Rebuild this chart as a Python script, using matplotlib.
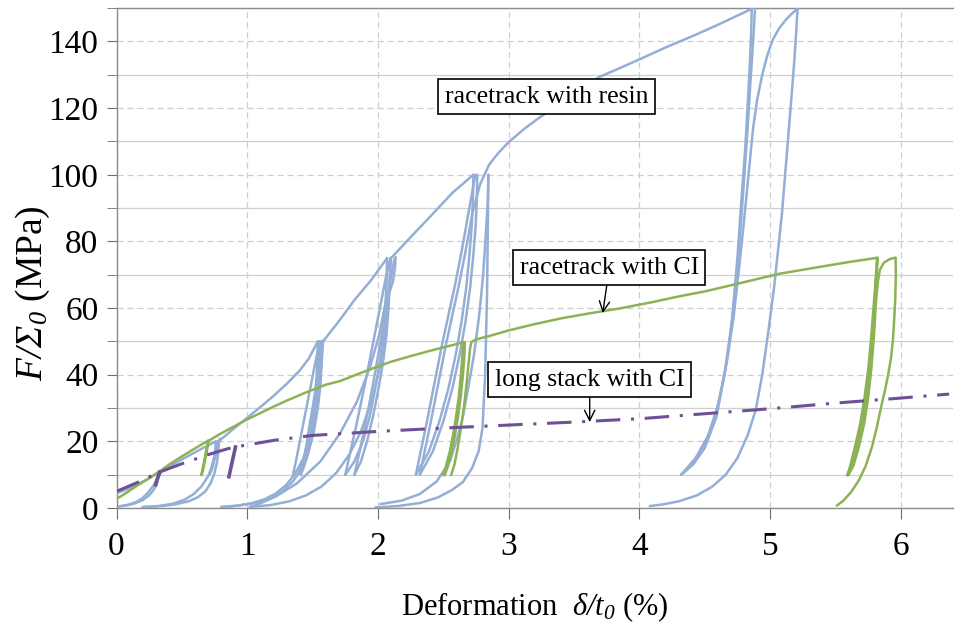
import matplotlib
matplotlib.use("Agg")
import matplotlib.pyplot as plt
from matplotlib.ticker import MultipleLocator

plt.rcParams['font.family'] = ['Liberation Serif', 'DejaVu Serif']
plt.rcParams['mathtext.fontset'] = 'custom'
plt.rcParams['mathtext.rm'] = 'Liberation Serif:italic'
plt.rcParams['mathtext.it'] = 'Liberation Serif:italic'

# ---------------- data ----------------
# racetrack with resin (blue): polylines, x = deformation (%), y = F/Sigma0 (MPa)
resin_x = [
    # level ~11 MPa
    [0, 0.05, 0.10, 0.16, 0.22, 0.27, 0.31, 0.33],
    [0.33, 0.325, 0.31, 0.285, 0.25, 0.20, 0.14, 0.08, 0.02],
    [0.02, 0.09, 0.15, 0.20, 0.24, 0.28, 0.31, 0.335, 0.35],
    [0.35, 0.42, 0.50, 0.58, 0.66, 0.72, 0.76],
    # level 20 MPa
    [0.76, 0.755, 0.745, 0.73, 0.71, 0.725, 0.745, 0.76, 0.775],
    [0.775, 0.785, 0.78, 0.77, 0.75, 0.72, 0.68, 0.62, 0.55, 0.46, 0.37, 0.28, 0.20],
    [0.20, 0.32, 0.43, 0.52, 0.59, 0.65, 0.70, 0.735, 0.765, 0.79],
    [0.785, 0.83, 0.88, 0.94, 1.01, 1.10, 1.20, 1.30, 1.40, 1.47, 1.54],
    # level 50 MPa
    [1.54, 1.537, 1.53, 1.518, 1.50, 1.475, 1.44, 1.40, 1.35],
    [1.35, 1.375, 1.40, 1.425, 1.45, 1.475, 1.50, 1.52, 1.555],
    [1.555, 1.552, 1.545, 1.533, 1.515, 1.49, 1.46, 1.43, 1.41],
    [1.41, 1.43, 1.455, 1.475, 1.50, 1.52, 1.54, 1.555, 1.57],
    [1.57, 1.575, 1.57, 1.56, 1.54, 1.51, 1.47, 1.42, 1.35, 1.27, 1.18, 1.08,
     0.98, 0.88, 0.80],
    [0.80, 0.92, 1.03, 1.13, 1.22, 1.30, 1.37, 1.43, 1.48, 1.52, 1.555, 1.58,
     1.70, 1.82, 1.95, 2.07],
    # level 75 MPa
    [2.07, 2.066, 2.056, 2.04, 2.015, 1.98, 1.94, 1.89, 1.82, 1.75],
    [1.75, 1.79, 1.83, 1.87, 1.91, 1.95, 1.99, 2.03, 2.06, 2.095],
    [2.095, 2.091, 2.081, 2.065, 2.04, 2.005, 1.965, 1.92, 1.87, 1.82],
    [1.82, 1.86, 1.90, 1.94, 1.98, 2.02, 2.055, 2.085, 2.11, 2.125, 2.135],
    [2.135, 2.13, 2.115, 2.09, 2.06, 2.01, 1.94, 1.84, 1.71, 1.56, 1.38, 1.22,
     1.10, 1.02],
    [1.02, 1.18, 1.32, 1.45, 1.57, 1.68, 1.78, 1.87, 1.95, 2.02, 2.07, 2.10],
    [2.10, 2.26, 2.42, 2.57, 2.73],
    # level 100 MPa
    [2.73, 2.727, 2.718, 2.70, 2.675, 2.64, 2.595, 2.54, 2.47, 2.39, 2.29],
    [2.29, 2.33, 2.37, 2.41, 2.45, 2.49, 2.54, 2.59, 2.64, 2.69, 2.745],
    [2.76, 2.757, 2.748, 2.73, 2.705, 2.67, 2.625, 2.57, 2.50, 2.42, 2.32],
    [2.32, 2.36, 2.40, 2.44, 2.48, 2.52, 2.57, 2.62, 2.67, 2.72, 2.78, 2.85,
     2.92, 3.0, 3.12, 3.24, 3.40, 3.55, 3.69, 3.85, 4.01, 4.2, 4.4, 4.6, 4.86],
    [1.98, 2.15, 2.32, 2.46, 2.57, 2.65, 2.72, 2.77, 2.80, 2.82, 2.835, 2.845],
    [2.845, 2.84, 2.825, 2.805, 2.775, 2.735, 2.69, 2.65, 2.60, 2.55, 2.45,
     2.32, 2.18, 2.02],
    # level 150 MPa
    [4.86, 4.855, 4.845, 4.83, 4.81, 4.78, 4.75, 4.71, 4.66, 4.59, 4.50, 4.41, 4.32],
    [4.32, 4.42, 4.51, 4.59, 4.65, 4.70, 4.74, 4.77, 4.80, 4.83, 4.85, 4.87, 4.885],
    [4.32, 4.43, 4.53, 4.61, 4.67, 4.72, 4.76, 4.80, 4.84, 4.87, 4.90, 4.94,
     4.98, 5.02, 5.07, 5.12, 5.17, 5.21],
    [5.21, 5.20, 5.185, 5.165, 5.14, 5.115, 5.09, 5.06, 5.03, 4.99, 4.94, 4.89,
     4.83, 4.75, 4.66, 4.56, 4.44, 4.30, 4.18, 4.08],
]
resin_y = [
    [4.4, 5.2, 6.0, 7.1, 8.3, 9.5, 10.5, 11.0],
    [11.0, 9.5, 7.5, 5.5, 3.8, 2.4, 1.4, 0.8, 0.5],
    [0.5, 1.0, 1.8, 3.0, 4.6, 6.6, 8.6, 10.3, 11.3],
    [11.3, 12.8, 14.6, 16.3, 18.0, 19.2, 20.0],
    [20, 17, 14, 11.5, 10, 12, 15, 17.5, 20],
    [20, 20.2, 17.5, 14, 10.5, 7.5, 5.0, 3.2, 2.0, 1.2, 0.7, 0.4, 0.3],
    [0.3, 0.6, 1.3, 2.5, 4.2, 6.5, 9.5, 12.8, 16.5, 20.8],
    [20.2, 21.6, 23.3, 25.2, 27.4, 30.3, 33.6, 37.2, 41.2, 44.8, 50],
    [50, 45, 39, 33, 26.5, 20.5, 15.5, 12, 10],
    [10, 14.5, 19.5, 24.5, 29.5, 34.5, 39.5, 43.5, 50],
    [50, 45, 39, 33, 26.5, 20.5, 15.5, 12, 10],
    [10, 14, 19.5, 24.5, 30, 35, 40.5, 45, 50],
    [50, 50.2, 44, 37, 30, 23, 17, 12, 8, 5, 3, 1.8, 1.0, 0.5, 0.3],
    [0.3, 0.7, 1.4, 2.6, 4.4, 7, 10.5, 15, 21, 28, 37, 50, 56, 62.4, 68.5, 75],
    [75, 68, 60, 52, 44, 36, 28, 20.5, 14, 10],
    [10, 17, 24, 31.5, 39, 47, 55, 63, 69, 75],
    [75, 68, 60, 52, 44, 36, 28, 20.5, 14, 10],
    [10, 17, 24.5, 32.5, 41, 50, 58.5, 66, 71.5, 74.5, 75.2],
    [75.2, 72, 68, 65, 62, 52, 42.4, 32, 22.4, 14, 7.4, 3.5, 1.4, 0.4],
    [0.3, 0.9, 2.0, 3.8, 6.5, 10.5, 16, 23, 32, 43, 58, 75],
    [75, 81.7, 88.3, 94.6, 100],
    [100, 93, 85, 76, 66, 56, 46, 36, 26, 17, 10],
    [10, 17.5, 25, 33, 41, 49, 58, 67, 77, 88, 100],
    [100, 93, 85, 76, 66, 56, 46, 36, 26, 17, 10],
    [10, 17.5, 25, 33, 41, 49, 58, 67, 77, 88, 97, 103, 106.5, 109.8, 113.8,
     117.3, 121.5, 125.5, 129.3, 132, 134.8, 138.2, 141.5, 145, 149.8],
    [0.2, 0.6, 1.5, 3.2, 5.5, 7.8, 12, 17, 24, 40, 65, 100],
    [100, 92, 82, 70, 58, 46, 36, 27.4, 20, 14, 8, 4.2, 2.2, 1.2],
    [150, 142, 133, 122, 108, 92, 75, 57, 42, 27.4, 18, 13, 10],
    [10, 14, 20, 29, 40, 53, 67, 82, 98, 115, 128, 140, 150],
    [10, 15, 22, 32, 44, 57, 71, 86, 102, 114, 122.3, 130, 136, 140.5, 144,
     146.5, 148.5, 149.8],
    [149.8, 143, 134, 124, 112, 100, 88, 77, 66, 54, 40, 29.4, 22, 15, 10, 6.5,
     3.8, 2.0, 1.1, 0.6],
]

# racetrack with CI (green)
ci_x = [
    [0, 0.08, 0.16, 0.24, 0.31, 0.40, 0.50, 0.60, 0.70],
    [0.70, 0.695, 0.68, 0.665, 0.65, 0.66, 0.675, 0.69, 0.705],
    [0.705, 0.80, 0.90, 0.99, 1.10, 1.20, 1.30, 1.45, 1.60, 1.71, 1.84, 1.96,
     2.10, 2.25, 2.40, 2.53, 2.65],
    [2.65, 2.645, 2.635, 2.62, 2.60, 2.575, 2.55, 2.52, 2.50],
    [2.50, 2.525, 2.555, 2.58, 2.605, 2.625, 2.64, 2.65, 2.66],
    [2.66, 2.655, 2.645, 2.63, 2.61, 2.585, 2.56, 2.53, 2.51],
    [2.51, 2.535, 2.565, 2.59, 2.615, 2.635, 2.65, 2.66, 2.665],
    [2.56, 2.585, 2.61, 2.635, 2.66, 2.68, 2.695, 2.705, 2.715, 2.73, 2.76,
     2.80, 2.85],
    [2.85, 3.0, 3.2, 3.4, 3.6, 3.85, 4.1, 4.3, 4.5, 4.75, 5.07, 5.37, 5.6, 5.82],
    [5.82, 5.815, 5.80, 5.78, 5.76, 5.73, 5.70, 5.66, 5.62, 5.59],
    [5.59, 5.63, 5.67, 5.71, 5.74, 5.765, 5.785, 5.80, 5.81, 5.82],
    [5.82, 5.812, 5.795, 5.775, 5.752, 5.722, 5.69, 5.65, 5.615, 5.595],
    [5.595, 5.635, 5.675, 5.715, 5.745, 5.77, 5.79, 5.805, 5.815, 5.822],
    [5.60, 5.64, 5.68, 5.72, 5.75, 5.775, 5.795, 5.81, 5.825, 5.84, 5.87, 5.91,
     5.94, 5.96],
    [5.96, 5.962, 5.958, 5.95, 5.94, 5.925, 5.905, 5.88, 5.85, 5.815, 5.78, 5.73,
     5.68, 5.62, 5.56, 5.51],
]
ci_y = [
    [2.7, 4.7, 6.8, 8.7, 10.4, 13.0, 15.5, 17.9, 20.2],
    [20.2, 18, 15, 12, 9.9, 12, 15, 18, 20.2],
    [20.2, 22.4, 24.5, 26.4, 28.5, 30.4, 32.2, 34.7, 37.0, 38.1, 40.1, 41.9,
     43.9, 45.6, 47.2, 48.5, 49.7],
    [49.7, 45, 40, 34, 28, 22, 17, 12.5, 9.9],
    [9.9, 12.5, 17, 22, 28, 34, 40, 45, 49.7],
    [49.7, 45, 40, 34, 28, 22, 17, 12.5, 9.9],
    [9.9, 12.5, 17, 22, 28, 34, 40, 45, 49.7],
    [9.9, 13, 18, 24, 31, 38, 44, 48, 49.8, 50.2, 50.7, 51.1, 51.6],
    [51.6, 53.3, 55.2, 56.9, 58.3, 59.9, 61.8, 63.5, 65.0, 67.3, 70.3, 72.3,
     73.8, 75.1],
    [75.1, 70, 62, 52, 42, 33, 25.4, 18.5, 13, 9.9],
    [9.9, 13, 18.5, 25.4, 33, 42, 52, 62, 70, 75],
    [75, 70, 62, 52, 42, 33, 25.4, 18.5, 13, 9.9],
    [9.9, 13, 18.5, 25.4, 33, 42, 52, 62, 70, 75],
    [9.9, 13, 18.5, 25.4, 33, 42, 52, 62, 68, 71.5, 73.6, 74.6, 75.0, 75.1],
    [75.1, 70, 63, 57, 50.4, 45, 40.4, 35.5, 30.4, 24, 18.4, 12.5, 8.4, 4.8,
     2.2, 0.7],
]

# long stack with CI (purple)
stack_x = [0, 0.15, 0.33, 0.5, 0.69, 0.85, 0.95, 1.2, 1.5, 2.0, 2.5, 3.0, 3.5,
           4.0, 4.5, 5.0, 5.5, 6.0, 6.37]
stack_y = [5, 7.5, 10.8, 13.3, 15.9, 17.8, 18.6, 20.3, 21.8, 23.0, 24.0, 24.9,
           25.8, 26.8, 28.3, 29.8, 31.5, 33.0, 34.2]
stack_loops_x = [[0.33, 0.31, 0.30], [0.91, 0.88, 0.86]]
stack_loops_y = [[10.8, 8.5, 7.0], [18.3, 13.0, 9.4]]

labels = ["racetrack with resin", "racetrack with CI", "long stack with CI"]
label_pos = [(3.29, 123.4), (3.77, 72.1), (3.62, 38.5)]
arrow_tips = [None, (3.72, 58.5), (3.62, 25.8)]

# ---------------- figure ----------------
fig = plt.figure(figsize=(9.55, 6.28), dpi=100)
ax = fig.add_axes([0.122, 0.191, 0.876, 0.796])

blue = '#94AED6'
green = '#8DB255'
purple = '#6E5096'

for xs, ys in zip(resin_x, resin_y):
    ax.plot(xs, ys, color=blue, lw=1.8, solid_joinstyle='round',
            solid_capstyle='round', zorder=3)
for xs, ys in zip(ci_x, ci_y):
    ax.plot(xs, ys, color=green, lw=1.8, solid_joinstyle='round',
            solid_capstyle='round', zorder=4)
ax.plot(stack_x, stack_y, color=purple, lw=2.2, ls=(0, (8, 3.5, 1, 3.5)), zorder=5)
for xs, ys in zip(stack_loops_x, stack_loops_y):
    ax.plot(xs, ys, color=purple, lw=2.6, zorder=5)

ax.set_xlim(0, 6.4)
ax.set_ylim(0, 150)
ax.xaxis.set_major_locator(MultipleLocator(1))
ax.yaxis.set_major_locator(MultipleLocator(20))
ax.yaxis.set_minor_locator(MultipleLocator(10))

ax.grid(True, which='major', axis='y', color='#CFCFCF', lw=0.9, ls=(0, (5, 3)))
ax.grid(True, which='minor', axis='y', color='#CFCFCF', lw=0.9, ls='-')
ax.grid(True, which='major', axis='x', color='#CFCFCF', lw=0.9, ls=(0, (5, 3)))
ax.set_axisbelow(True)

for s in ['left', 'bottom', 'top']:
    ax.spines[s].set_color('#8C8C8C')
    ax.spines[s].set_linewidth(1.0)
ax.spines['right'].set_visible(False)

ax.tick_params(axis='both', which='both', direction='out', color='#6E6E6E',
               labelsize=24)
ax.tick_params(axis='y', which='major', length=7, pad=6)
ax.tick_params(axis='y', which='minor', length=7)
ax.tick_params(axis='x', which='major', length=8, pad=9)

ax.set_xlabel(r'Deformation  $δ/t_0$ (%)', fontsize=22)
ax.xaxis.set_label_coords(0.5, -0.198)
ax.xaxis.label.set_va('center')
ax.set_ylabel(r'$F/Σ_0$ (MPa)', fontsize=27)
ax.yaxis.set_label_coords(-0.1, 0.43)
ax.yaxis.label.set_va('center')

for i, (txt, pos) in enumerate(zip(labels, label_pos)):
    bbox = dict(boxstyle='square,pad=0.25', fc='white', ec='black', lw=1.2)
    if arrow_tips[i] is None:
        ax.text(pos[0], pos[1], txt, fontsize=18.5, ha='center', va='center',
                bbox=bbox, zorder=10)
    else:
        ax.annotate(txt, xy=arrow_tips[i], xytext=pos, fontsize=18.5,
                    ha='center', va='center', bbox=bbox, zorder=10,
                    arrowprops=dict(arrowstyle='->', color='black', lw=1.0,
                                    shrinkA=0, shrinkB=0))

fig.savefig('out.png', dpi=100)
